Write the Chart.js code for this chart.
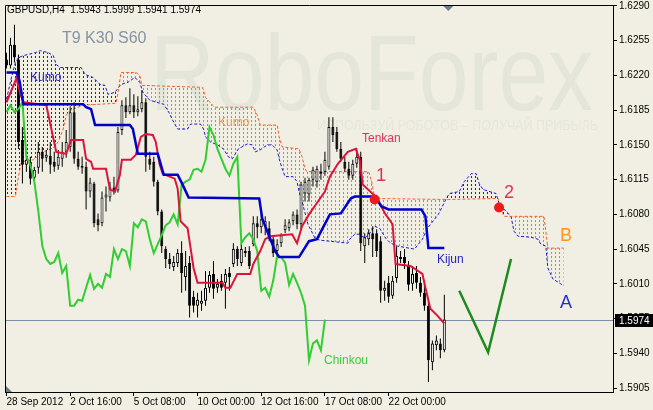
<!DOCTYPE html>
<html>
<head>
<meta charset="utf-8">
<script src="https://cdn.jsdelivr.net/npm/chart.js@4.4.1/dist/chart.umd.min.js"></script>
<style>
  html, body { margin: 0; padding: 0; background: #f1efe3; }
  canvas { display: block; }
</style>
</head>
<body>
<canvas id="chart" width="653" height="410"></canvas>
<script>
// GBPUSD H4 with Ichimoku Kinko Hyo (T9 K30 S60), MT4 style

const symbolName = 'GBPUSD,H4';
const settingsText = 'T9 K30 S60';

// --- candles (bar index 0 = 28 Sep 2012) ---
const openP = [
  1.6236,1.6230,1.6251,1.6236,1.6155,1.6130,1.6133,1.6117,1.6127,1.6143,
  1.6137,1.6139,1.6133,1.6129,1.6136,1.6143,1.6148,1.6183,1.6136,1.6129,
  1.6128,1.6103,1.6111,1.6075,1.6071,1.6097,1.6097,1.6107,1.6104,1.6165,
  1.6190,1.6183,1.6190,1.6183,1.6186,1.6193,1.6136,1.6133,1.6113,1.6083,
  1.6045,1.6035,1.6027,1.6031,1.6041,1.6017,1.6031,1.5997,1.5988,1.5990,
  1.5993,1.6006,1.6020,1.6006,1.6013,1.6011,1.6021,1.6030,1.6045,1.6031,
  1.6041,1.6043,1.6050,1.6071,1.6067,1.6068,1.6066,1.6055,1.6043,1.6051,
  1.6064,1.6066,1.6073,1.6080,1.6070,1.6101,1.6100,1.6115,1.6113,1.6121,
  1.6123,1.6128,1.6168,1.6163,1.6146,1.6133,1.6126,1.6119,1.6131,1.6138,
  1.6048,1.6055,1.6061,1.6061,1.6053,1.6003,1.6011,1.5998,1.6016,1.6035,
  1.6037,1.6028,1.6010,1.6021,1.6011,1.6001,1.5988,1.5931,1.5948,1.5950,
  1.5943
];
const highP = [
  1.6243,1.6258,1.6271,1.6241,1.6168,1.6143,1.6138,1.6128,1.6153,1.6148,
  1.6145,1.6153,1.6143,1.6145,1.6153,1.6165,1.6189,1.6193,1.6143,1.6138,
  1.6133,1.6117,1.6113,1.6081,1.6103,1.6108,1.6113,1.6118,1.6168,1.6195,
  1.6198,1.6207,1.6201,1.6199,1.6205,1.6197,1.6143,1.6138,1.6115,1.6085,
  1.6048,1.6041,1.6038,1.6045,1.6053,1.6043,1.6038,1.6003,1.6001,1.6003,
  1.6023,1.6023,1.6033,1.6015,1.6020,1.6025,1.6027,1.6051,1.6048,1.6050,
  1.6047,1.6048,1.6078,1.6078,1.6083,1.6078,1.6073,1.6058,1.6055,1.6061,
  1.6075,1.6075,1.6083,1.6085,1.6113,1.6117,1.6117,1.6128,1.6129,1.6131,
  1.6143,1.6178,1.6178,1.6168,1.6153,1.6138,1.6133,1.6135,1.6147,1.6143,
  1.6061,1.6065,1.6068,1.6065,1.6058,1.6013,1.6018,1.6018,1.6048,1.6043,
  1.6045,1.6033,1.6028,1.6028,1.6017,1.6013,1.5993,1.5953,1.5958,1.5955,
  1.5999
];
const lowP = [
  1.6227,1.6227,1.6233,1.6146,1.6111,1.6123,1.6110,1.6113,1.6121,1.6123,
  1.6133,1.6121,1.6123,1.6125,1.6128,1.6137,1.6143,1.6131,1.6125,1.6121,
  1.6085,1.6097,1.6067,1.6063,1.6068,1.6083,1.6093,1.6100,1.6102,1.6160,
  1.6177,1.6181,1.6177,1.6179,1.6183,1.6123,1.6125,1.6108,1.6079,1.6041,
  1.6026,1.6025,1.6023,1.6027,1.6001,1.6003,1.5976,1.5981,1.5976,1.5983,
  1.5988,1.6001,1.5995,1.6001,1.6003,1.5985,1.6003,1.6027,1.6028,1.6028,
  1.6037,1.6025,1.6048,1.6056,1.6061,1.6059,1.6053,1.6037,1.6038,1.6047,
  1.6061,1.6063,1.6069,1.6065,1.6065,1.6093,1.6093,1.6108,1.6107,1.6115,
  1.6119,1.6125,1.6153,1.6143,1.6133,1.6123,1.6115,1.6115,1.6127,1.6043,
  1.6031,1.6049,1.6037,1.6037,1.5991,1.5993,1.5991,1.5995,1.6011,1.6031,
  1.6025,1.6003,1.6003,1.6005,1.5997,1.5983,1.5911,1.5923,1.5943,1.5935,
  1.5941
];
const closeP = [
  1.6230,1.6251,1.6238,1.6153,1.6130,1.6135,1.6116,1.6125,1.6143,1.6136,
  1.6140,1.6130,1.6128,1.6138,1.6143,1.6153,1.6183,1.6136,1.6128,1.6127,
  1.6103,1.6112,1.6071,1.6069,1.6097,1.6100,1.6107,1.6104,1.6163,1.6190,
  1.6183,1.6190,1.6183,1.6186,1.6193,1.6138,1.6130,1.6113,1.6083,1.6048,
  1.6035,1.6030,1.6032,1.6041,1.6021,1.6028,1.5988,1.5988,1.5994,1.5993,
  1.6006,1.6019,1.6005,1.6010,1.6006,1.6020,1.6017,1.6045,1.6035,1.6045,
  1.6043,1.6028,1.6071,1.6067,1.6075,1.6073,1.6055,1.6041,1.6050,1.6059,
  1.6069,1.6072,1.6080,1.6070,1.6110,1.6113,1.6115,1.6125,1.6126,1.6123,
  1.6135,1.6168,1.6160,1.6146,1.6136,1.6126,1.6119,1.6131,1.6138,1.6051,
  1.6057,1.6061,1.6055,1.6043,1.6003,1.6006,1.5997,1.6013,1.6038,1.6037,
  1.6031,1.6009,1.6020,1.6011,1.6001,1.5988,1.5933,1.5950,1.5953,1.5943,
  1.5974
];
const chinkouShift = 30;

// --- Ichimoku lines (bar index, price) ---
const tenkanX = [0,2.5,3.5,4.25,10,12.5,15,16.25,19.25,20,21.25,21.75,25,26,27.25,28.5,29,31.25,32.5,33.75,35,36.75,37.5,38.5,39.25,42.25,43,43.75,45.5,46.25,47,48,54.25,55,56.25,58,61.25,62,63.75,65,66.25,71.75,73,74.25,76,78.25,80,81.25,83.25,85.75,87.75,88.75,89.5,92.75,95.25,97,97.75,101.5,104.5,105.25,106.5,108.25,110];
const tenkanY = [1.6193,1.6217,1.6201,1.6193,1.6190,1.6143,1.6141,1.6155,1.6155,1.6136,1.6133,1.6126,1.6126,1.6105,1.6103,1.6120,1.6135,1.6135,1.6140,1.6158,1.6161,1.6160,1.6153,1.6130,1.6121,1.6116,1.6106,1.6073,1.6066,1.6046,1.6026,1.6011,1.6011,1.6006,1.6006,1.6020,1.6020,1.6030,1.6043,1.6055,1.6058,1.6060,1.6051,1.6068,1.6080,1.6093,1.6103,1.6118,1.6131,1.6143,1.6146,1.6135,1.6110,1.6098,1.6080,1.6070,1.6030,1.6028,1.6020,1.6006,1.5985,1.5978,1.5970];

const kijunX = [0,2.5,3.25,4.25,19.25,20,21.25,22.25,31,31.75,33,38,39.5,43,44.25,45.75,63.5,64.25,66,67.5,68.5,73.5,76,78,81.25,84,86.5,87.5,92.5,94.25,96,104.25,105.25,106,110];
const kijunY = [1.6223,1.6223,1.6215,1.6191,1.6191,1.6188,1.6186,1.6170,1.6170,1.6166,1.6141,1.6141,1.6120,1.6120,1.6110,1.6097,1.6096,1.6076,1.6058,1.6043,1.6037,1.6037,1.6053,1.6055,1.6080,1.6081,1.6096,1.6098,1.6098,1.6088,1.6085,1.6085,1.6078,1.6046,1.6046];

const spanAX = [0,1.25,2.25,3,4.25,7.25,8.5,10.5,11.75,12.5,
  13.5,18.75,19.75,21.75,23.5,24.75,25.5,27.25,28.75,30.5,
  32.25,33.5,34.25,36,39.5,40.75,42,43,45.5,46.25,
  48.75,49.5,50,51.25,53,54.5,55.75,56.75,57.5,58.25,
  60.5,61.75,62.5,63.75,65.5,66.75,68,68.5,69.25,70,
  72,73,73.5,74.25,75.75,77.5,78.75,85.75,86.25,87.5,
  88.75,90,91.25,92.5,93.75,95.25,96.5,98.25,102.5,104.5,
  105.75,108.5,110.5,111.25,113.75,115,116.75,118,118.75,119.75,
  123,123.75,125.5,126.75,127.5,128.5,131.75,133.5,134.25,135.5,
  136,137.25,139.25,140];
const spanAY = [1.6196,1.6218,1.6233,1.6238,1.6240,1.6243,1.6245,1.6243,1.6240,1.6231,
  1.6228,1.6228,1.6221,1.6218,1.6211,1.6210,1.6201,1.6203,1.6211,1.6213,
  1.6218,1.6213,1.6203,1.6195,1.6191,1.6183,1.6173,1.6166,1.6166,1.6171,
  1.6171,1.6166,1.6158,1.6153,1.6150,1.6146,1.6138,1.6136,1.6141,1.6146,
  1.6151,1.6150,1.6143,1.6145,1.6150,1.6150,1.6145,1.6136,1.6126,1.6118,
  1.6118,1.6113,1.6103,1.6093,1.6070,1.6056,1.6054,1.6051,1.6055,1.6060,
  1.6060,1.6056,1.6061,1.6068,1.6066,1.6056,1.6051,1.6048,1.6045,1.6055,
  1.6066,1.6080,1.6096,1.6101,1.6103,1.6113,1.6121,1.6121,1.6111,1.6105,
  1.6101,1.6091,1.6083,1.6078,1.6063,1.6058,1.6057,1.6055,1.6050,1.6048,
  1.6026,1.6015,1.6010,1.6008];

const spanBX = [0,2.25,3,3.75,6.75,9.25,11.75,13,14.25,15,16,19.25,27.5,28.25,28.75,32.5,33.5,34,49.25,50,51.75,52.25,62,63,63.75,68,68.5,69.25,73.5,74.25,75,75.5,91,91.75,92.5,111,123.5,124.25,125,135,135.5,136,140];
const spanBY = [1.6098,1.6098,1.6118,1.6133,1.6135,1.6143,1.6147,1.6153,1.6166,1.6180,1.6185,1.6190,1.6192,1.6208,1.6223,1.6223,1.6220,1.6210,1.6208,1.6198,1.6190,1.6188,1.6188,1.6180,1.6170,1.6170,1.6158,1.6148,1.6146,1.6138,1.6126,1.6123,1.6123,1.6113,1.6096,1.6095,1.6096,1.6085,1.6078,1.6078,1.6063,1.6046,1.6046];

// signal points "1" and "2", and the forecast V
const signalX = [92.5, 123.75];
const signalY = [1.6095, 1.6087];
const forecastX = [113.75, 121, 126.75];
const forecastY = [1.6003, 1.5941, 1.6035];

// --- axes ---
const priceTicks = [1.5905,1.5940,1.5975,1.6010,1.6045,1.6080,1.6115,1.6150,1.6185,1.6220,1.6255,1.6290];
const timeTickIdx = [0, 16, 32, 48, 64, 80, 96];
const timeTickLabels = ['28 Sep 2012', '2 Oct 16:00', '5 Oct 08:00', '10 Oct 00:00', '12 Oct 16:00', '17 Oct 08:00', '22 Oct 00:00'];

const FONT = '"Liberation Sans", Arial, sans-serif';
const BG = '#f1efe3';
Chart.defaults.font.family = FONT;
Chart.defaults.font.size = 10;
Chart.defaults.color = '#000';

const canvas = document.getElementById('chart');
const ctx = canvas.getContext('2d');

// vertical dotted hatching, one column per bar
function hatch(color) {
    const c = document.createElement('canvas');
    c.width = 4; c.height = 4;
    const g = c.getContext('2d');
    g.fillStyle = color;
    g.fillRect(3, 0, 1, 2);
    return ctx.createPattern(c, 'repeat');
}

const pts = (xs, ys) => xs.map((x, i) => ({ x, y: ys[i] }));
const last = closeP.length - 1;

const decor = {
    id: 'decor',
    beforeDraw(chart) {
        const c = chart.ctx;
        c.save();
        c.fillStyle = BG;
        c.fillRect(0, 0, chart.width, chart.height);
        // watermark
        c.fillStyle = '#e5e6da';
        c.textBaseline = 'alphabetic';
        c.font = '107px ' + FONT;
        c.fillText('RoboForex', 150, 110, 443);
        c.fillStyle = '#e6e6dc';
        c.font = '14px ' + FONT;
        c.fillText('ИСПОЛЬЗУЙ РОБОТОВ – ПОЛУЧАЙ ПРИБЫЛЬ', 317, 130, 281);
        c.restore();
    },
    beforeDatasetsDraw(chart) {
        // bid line
        const c = chart.ctx, a = chart.chartArea;
        const y = Math.round(chart.scales.y.getPixelForValue(closeP[last])) + 0.5;
        c.save();
        c.strokeStyle = '#7b8fa6';
        c.lineWidth = 1;
        c.beginPath(); c.moveTo(a.left, y); c.lineTo(a.right, y); c.stroke();
        c.restore();
    },
    afterDraw(chart) {
        const c = chart.ctx, a = chart.chartArea;
        c.save();
        // top and left frame
        c.strokeStyle = '#000'; c.lineWidth = 1;
        c.beginPath();
        c.moveTo(a.left + 0.5, a.bottom); c.lineTo(a.left + 0.5, a.top + 0.5); c.lineTo(a.right, a.top + 0.5);
        c.stroke();

        // header
        c.fillStyle = '#000';
        c.font = '10px ' + FONT;
        c.textBaseline = 'middle';
        c.fillText(symbolName + '  ' + [openP[last], highP[last], lowP[last], closeP[last]].map(v => v.toFixed(4)).join(' '), 7, 10);

        // indicator settings
        c.fillStyle = '#8593a3';
        c.font = '16px ' + FONT;
        c.fillText(settingsText, 62, 39);

        const label = (t, x, y, color, size) => {
            c.fillStyle = color; c.font = size + 'px ' + FONT; c.fillText(t, x, y);
        };
        label('Kumo', 30, 78, '#2424c0', 12);
        label('Kumo', 218, 123, '#e39d5e', 12);
        label('Tenkan', 362, 139, '#e3305a', 12);
        label('Kijun', 437, 260, '#2424c8', 12);
        label('Chinkou', 324, 361, '#3fcc3f', 12);
        label('1', 376, 176, '#e3305a', 18);
        label('2', 504, 193, '#e3305a', 18);
        label('B', 560, 236, '#ff961e', 18);
        label('A', 560, 303, '#2230cc', 18);

        // current price box
        const py = Math.round(chart.scales.y.getPixelForValue(closeP[last]));
        c.fillStyle = '#000';
        c.fillRect(a.right + 2, py - 6, 38, 13);
        c.fillStyle = '#fff';
        c.font = '10px ' + FONT;
        c.fillText(closeP[last].toFixed(4), a.right + 6, py + 1);

        // chart shift marker and corner marker
        c.fillStyle = '#6b7c8e';
        const sx = chart.scales.x.getPixelForValue(last + 1);
        c.beginPath(); c.moveTo(sx - 5, a.top + 1); c.lineTo(sx + 5, a.top + 1); c.lineTo(sx, a.top + 6); c.closePath(); c.fill();
        c.beginPath(); c.moveTo(a.left + 1, a.bottom - 6); c.lineTo(a.left + 1, a.bottom); c.lineTo(a.left + 7, a.bottom); c.closePath(); c.fill();
        c.restore();
    }
};

new Chart(ctx, {
    type: 'line',
    data: {
        datasets: [
            {   // Senkou Span A with the kumo hatching
                data: pts(spanAX, spanAY),
                borderColor: '#1a1acc', borderWidth: 1, borderDash: [3, 2],
                pointRadius: 0, tension: 0,
                fill: { target: 1, above: hatch('#1c1cc8'), below: hatch('#f27444') },
                order: 9
            },
            {   // Senkou Span B
                data: pts(spanBX, spanBY),
                borderColor: '#f2602c', borderWidth: 1, borderDash: [3, 2],
                pointRadius: 0, tension: 0, fill: false,
                order: 8
            },
            {   // wicks
                type: 'bar',
                data: highP.map((h, i) => ({ x: i, y: [lowP[i], h] })),
                backgroundColor: '#000', borderWidth: 0,
                barThickness: 1, grouped: false, inflateAmount: 0,
                order: 7
            },
            {   // bodies
                type: 'bar',
                data: openP.map((o, i) => ({ x: i, y: [o, closeP[i]] })),
                backgroundColor: openP.map((o, i) => closeP[i] >= o ? '#ffffff' : '#000000'),
                borderColor: '#000', borderWidth: 1, borderSkipped: false,
                barThickness: 3, grouped: false, inflateAmount: 0, minBarLength: 1,
                order: 6
            },
            {   // Chinkou span: closes shifted back
                data: closeP.slice(chinkouShift).map((v, j) => ({ x: j, y: v })),
                borderColor: '#32cd32', borderWidth: 2, pointRadius: 0, tension: 0, fill: false,
                order: 5
            },
            {   // Tenkan-sen
                data: pts(tenkanX, tenkanY),
                borderColor: '#dc143c', borderWidth: 2, pointRadius: 0, tension: 0, fill: false,
                order: 4
            },
            {   // Kijun-sen
                data: pts(kijunX, kijunY),
                borderColor: '#0000cd', borderWidth: 2.5, pointRadius: 0, tension: 0, fill: false,
                order: 3
            },
            {   // forecast V
                data: pts(forecastX, forecastY),
                borderColor: '#1f8a1f', borderWidth: 2.5, pointRadius: 0, tension: 0, fill: false,
                order: 2
            },
            {   // signals
                data: pts(signalX, signalY),
                showLine: false, pointRadius: 5, pointBackgroundColor: '#ee1a1a', pointBorderWidth: 0,
                order: 1
            }
        ]
    },
    options: {
        responsive: false,
        animation: false,
        events: [],
        layout: { padding: { left: 2, top: 2, right: 0, bottom: 0 } },
        scales: {
            x: {
                type: 'linear', min: -0.375, max: 152.375, offset: false,
                afterBuildTicks: s => { s.ticks = timeTickIdx.map(v => ({ value: v })); },
                afterFit: s => { s.height = 18; s.paddingLeft = s.paddingRight = s.paddingTop = s.paddingBottom = 0; },
                ticks: {
                    callback: v => timeTickLabels[timeTickIdx.indexOf(v)],
                    align: 'start', padding: 0, maxRotation: 0, minRotation: 0, autoSkip: false,
                    color: '#000', font: { size: 10 }
                },
                grid: { drawOnChartArea: false, drawTicks: true, tickLength: 4, color: '#000', offset: false },
                border: { display: true, color: '#000', width: 1 }
            },
            y: {
                type: 'linear', position: 'right', min: 1.5901, max: 1.6291,
                afterBuildTicks: s => { s.ticks = priceTicks.map(v => ({ value: v })); },
                afterFit: s => { s.width = 40; s.paddingLeft = s.paddingRight = s.paddingTop = s.paddingBottom = 0; },
                ticks: { callback: v => v.toFixed(4), padding: 2, color: '#000', font: { size: 10 }, autoSkip: false },
                grid: { drawOnChartArea: false, drawTicks: true, tickLength: 4, color: '#000' },
                border: { display: true, color: '#000', width: 1 }
            }
        },
        plugins: { legend: { display: false }, tooltip: { enabled: false } }
    },
    plugins: [decor]
});
</script>
</body>
</html>
